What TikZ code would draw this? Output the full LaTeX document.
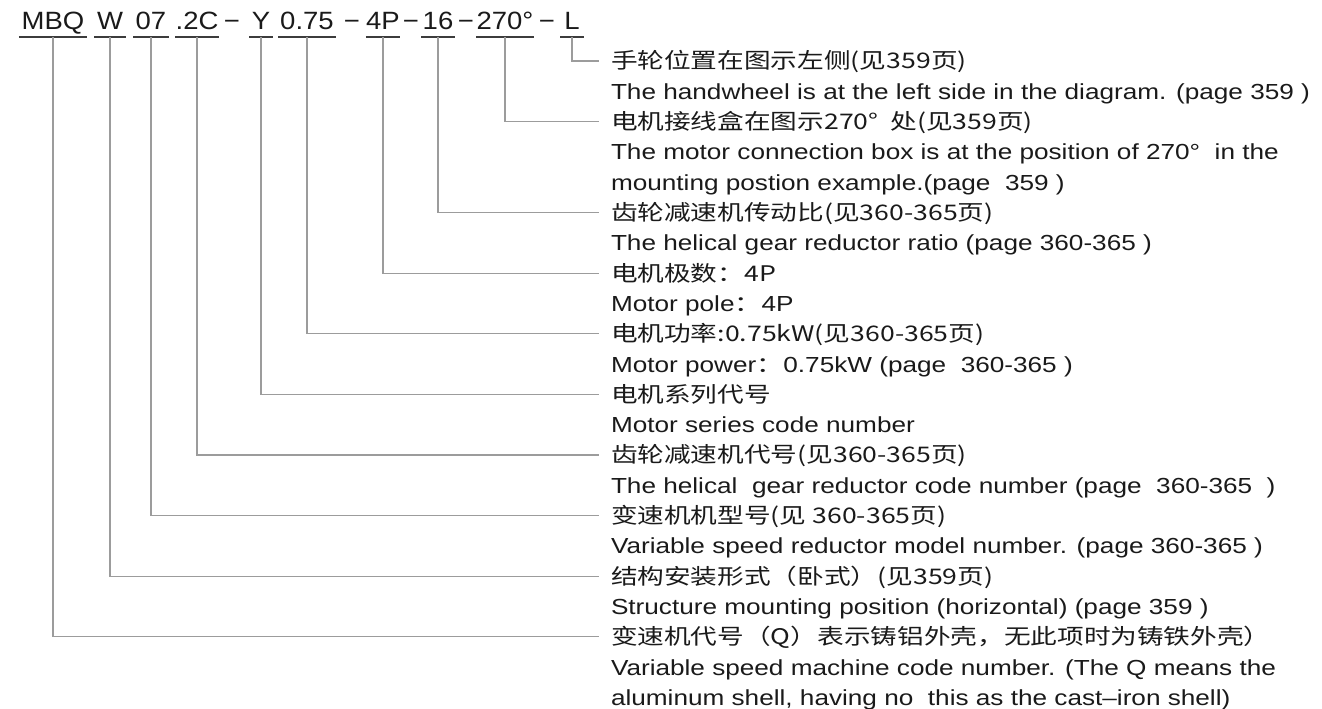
\documentclass[tikz,border=0pt]{standalone}
\usepackage{fontspec}
\setmainfont{Liberation Sans}[FakeStretch=1.2]
\newfontfamily\cjk{Noto Sans CJK SC}[FakeStretch=1.24]
\newfontfamily\codefont{Liberation Sans}[FakeStretch=1.1]
\usepackage{tikz}
\usetikzlibrary{positioning}
\definecolor{ink}{HTML}{1A1A1A}
\definecolor{lead}{HTML}{9C9C9C}

\begin{document}
\begin{tikzpicture}[x=1pt, y=-1pt,
  tok/.style={anchor=base, inner xsep=0pt, inner ysep=0pt, text depth=0pt, text=ink, font=\codefont\fontsize{25}{28}\selectfont},
  cn/.style={anchor=west, inner sep=0pt, outer sep=0pt, text height=17pt, text depth=1pt, minimum height=30.3pt, text=ink, font=\cjk\fontsize{21.5}{30}\selectfont},
  en/.style={cn, font=\fontsize{21.8}{30}\selectfont},
  uline/.style={line width=1.9pt, ink!85},
  conn/.style={line width=1.2pt, lead}]
  \useasboundingbox (0,0) rectangle (1322,709);
  % type code
  \node[tok, minimum width=68pt] (tMBQ) at (53,30) {MBQ};
  \node[tok, minimum width=31pt] (tW) at (110,30) {W};
  \node[tok, minimum width=35pt] (t07) at (151,30) {07};
  \node[tok, minimum width=43pt] (t2C) at (197,30) {.2C};
  \node[tok] (dA) at (232,30) {−};
  \node[tok, minimum width=23pt] (tY) at (261,30) {Y};
  \node[tok, minimum width=57pt] (t075) at (307,30) {0.75};
  \node[tok] (dB) at (352,30) {−};
  \node[tok, minimum width=34pt] (t4P) at (383,30) {4P};
  \node[tok] (dC) at (411,30) {−};
  \node[tok, minimum width=33pt] (t16) at (438,30) {16};
  \node[tok] (dD) at (466,30) {−};
  \node[tok, minimum width=55pt] (t270) at (505,30) {270°};
  \node[tok] (dE) at (547,30) {−};
  \node[tok, minimum width=23pt] (tL) at (572,30) {L};
  \foreach \t in {tMBQ, tW, t07, t2C, tY, t075, t4P, t16, t270, tL}
    \draw[uline] ([yshift=-7pt]\t.south west) -- ([yshift=-7pt]\t.south east);
  % descriptions
  \node[cn] (cL) at (611,61) {手轮位置在图示左侧(见359页)};
  \node[en, below=0pt of cL.south west, anchor=north west] (eL) {The handwheel is at the left side in the diagram. (page 359 )};
  \node[cn, below=0pt of eL.south west, anchor=north west] (c270) {电机接线盒在图示270°\ \ 处(见359页)};
  \node[en, below=0pt of c270.south west, anchor=north west] (e270a) {The motor connection box is at the position of 270°\ \ in the};
  \node[en, below=0pt of e270a.south west, anchor=north west] (e270b) {mounting postion example.(page\ \ 359 )};
  \node[cn, below=0pt of e270b.south west, anchor=north west] (c16) {齿轮减速机传动比(见360-365页)};
  \node[en, below=0pt of c16.south west, anchor=north west] (e16) {The helical gear reductor ratio (page 360-365 )};
  \node[cn, below=0pt of e16.south west, anchor=north west] (c4P) {电机极数：4P};
  \node[en, below=0pt of c4P.south west, anchor=north west] (e4P) {Motor pole{\cjk：}4P};
  \node[cn, below=0pt of e4P.south west, anchor=north west] (c075) {电机功率:0.75kW(见360-365页)};
  \node[en, below=0pt of c075.south west, anchor=north west] (e075) {Motor power{\cjk：}0.75kW (page\ \ 360-365 )};
  \node[cn, below=0pt of e075.south west, anchor=north west] (cY) {电机系列代号};
  \node[en, below=0pt of cY.south west, anchor=north west] (eY) {Motor series code number};
  \node[cn, below=0pt of eY.south west, anchor=north west] (c2C) {齿轮减速机代号(见360-365页)};
  \node[en, below=0pt of c2C.south west, anchor=north west] (e2C) {The helical\ \ gear reductor code number (page\ \ 360-365\ \ )};
  \node[cn, below=0pt of e2C.south west, anchor=north west] (c07) {变速机机型号(见 360-365页)};
  \node[en, below=0pt of c07.south west, anchor=north west] (e07) {Variable speed reductor model number. (page 360-365 )};
  \node[cn, below=0pt of e07.south west, anchor=north west] (cW) {结构安装形式（卧式）(见359页)};
  \node[en, below=0pt of cW.south west, anchor=north west] (eW) {Structure mounting position (horizontal) (page 359 )};
  \node[cn, below=0pt of eW.south west, anchor=north west] (cMBQ) {变速机代号（Q）表示铸铝外壳，无此项时为铸铁外壳）};
  \node[en, below=0pt of cMBQ.south west, anchor=north west] (eMBQa) {Variable speed machine code number. (The Q means the};
  \node[en, below=0pt of eMBQa.south west, anchor=north west] (eMBQb) {aluminum shell, having no\ \ this as the cast–iron shell)};
  % leaders
  \foreach \a/\b in {tL/cL, t270/c270, t16/c16, t4P/c4P, t075/c075, tY/cY, t2C/c2C, t07/c07, tW/cW, tMBQ/cMBQ}
    \draw[conn] ([yshift=-7pt]\a.south) |- ([xshift=-12pt]\b.west);
\end{tikzpicture}
\end{document}
